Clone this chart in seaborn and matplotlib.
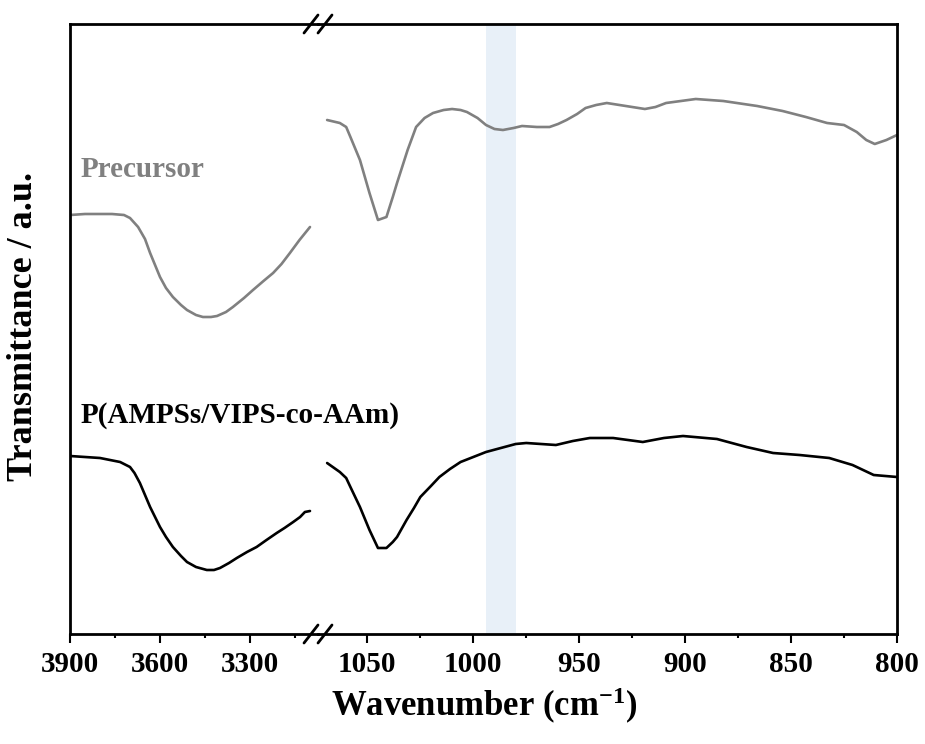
import matplotlib
matplotlib.use("Agg")
import matplotlib.pyplot as plt
from matplotlib.lines import Line2D
from matplotlib.ticker import FixedLocator
import seaborn as sns

# spectra (transmittance in arbitrary units)
prec_hi_wn = [3900, 3850, 3760, 3720, 3700, 3673, 3650, 3633, 3600, 3580, 3557, 3530,
              3510, 3480, 3457, 3430, 3410, 3380, 3357, 3320, 3290, 3255, 3223, 3195,
              3167, 3135, 3100]
prec_hi_t = [419, 420, 420, 419, 416, 407, 395, 381, 357, 346, 337, 329,
             324, 319, 317, 317, 318, 322, 327, 336, 344, 353, 361, 370,
             381, 394, 407]

prec_lo_wn = [1069, 1063, 1060, 1058, 1053.5, 1049, 1045, 1041, 1038, 1036, 1031, 1027,
              1023, 1019, 1014, 1010, 1006, 1003, 998, 994, 990, 986, 981, 977, 970,
              964, 960, 956, 951, 947, 942, 937, 928, 919, 914, 909, 902, 895, 882,
              866, 854, 843, 833, 825, 819, 814.5, 810.5, 805, 800]
prec_lo_t = [514, 511, 507, 497, 474, 441, 414, 417, 437, 451, 484, 507,
             516, 521, 524, 525, 524, 522, 516, 509, 505, 504, 506, 508, 507,
             507, 510, 514, 520, 526, 529, 531, 528, 525, 527, 531, 533, 535, 533,
             528, 523, 517, 511, 509, 502, 494, 490, 494, 499]

poly_hi_wn = [3900, 3800, 3733, 3700, 3685, 3667, 3650, 3633, 3600, 3580, 3557, 3530,
              3510, 3480, 3444, 3420, 3400, 3370, 3344, 3310, 3278, 3245, 3211, 3185,
              3156, 3133, 3117, 3100]
poly_hi_t = [178, 176, 172, 167, 161, 151, 139, 127, 107, 97, 87, 78,
             72, 67, 64, 64, 66, 71, 76, 82, 87, 94, 101, 106,
             112, 117, 122, 123]

poly_lo_wn = [1069, 1063, 1060, 1058, 1053.5, 1049, 1045, 1041, 1038, 1036, 1031.5,
              1028, 1025, 1020, 1016, 1011, 1006, 1000, 994, 987, 980, 975, 968,
              961, 953, 945, 934, 920, 910, 901, 885, 871, 858.5, 846, 832, 821,
              816, 811, 800]
poly_lo_t = [171, 162, 156, 147, 127, 104, 86, 86, 92, 97, 114,
             126, 137, 148, 157, 165, 172, 177, 182, 186, 190, 191, 190,
             189, 193, 196, 196, 192, 196, 198, 195, 187, 181, 179, 176, 169,
             164, 159, 157]

band = (980, 994)

sns.set_theme(style="ticks")
plt.rcParams['font.family'] = ['Liberation Serif', 'DejaVu Serif']
plt.rcParams['font.weight'] = 'bold'
plt.rcParams['text.color'] = 'black'
plt.rcParams['axes.labelcolor'] = 'black'
plt.rcParams['xtick.color'] = 'black'
plt.rcParams['xtick.labelcolor'] = 'black'
plt.rcParams['mathtext.fontset'] = 'custom'
plt.rcParams['mathtext.rm'] = 'Liberation Serif:bold'
plt.rcParams['mathtext.bf'] = 'Liberation Serif:bold'
plt.rcParams['mathtext.default'] = 'bf'

W, H = 925, 744
fig = plt.figure(figsize=(W / 100, H / 100), dpi=100)
x0, xb, x1 = 70, 318, 897
ytop, ybot = 24, 634
ax1 = fig.add_axes([x0 / W, 1 - ybot / H, (xb - x0) / W, (ybot - ytop) / H])
ax2 = fig.add_axes([xb / W, 1 - ybot / H, (x1 - xb) / W, (ybot - ytop) / H])

gray = '#808080'
lw = 1.9
for ax, pw, pt, bw, bt in [(ax1, prec_hi_wn, prec_hi_t, poly_hi_wn, poly_hi_t),
                           (ax2, prec_lo_wn, prec_lo_t, poly_lo_wn, poly_lo_t)]:
    sns.lineplot(x=pw, y=pt, ax=ax, color=gray, lw=lw, estimator=None, sort=False)
    sns.lineplot(x=bw, y=bt, ax=ax, color='black', lw=lw, estimator=None, sort=False)
    ax.set_ylim(0, 610)
    ax.set_yticks([])
    ax.set_xlabel('')
    ax.set_ylabel('')
    for s in ax.spines.values():
        s.set_linewidth(2.0)
        s.set_color('black')
    ax.tick_params(axis='x', which='major', direction='out', length=6.5, width=1.5,
                   labelsize=21, pad=6, colors='black')
    ax.tick_params(axis='x', which='minor', direction='out', length=3, width=1.5,
                   colors='black')
    ax.set_facecolor('none')

ax2.axvspan(band[0], band[1], color='#e8f0f8', lw=0, zorder=0)

ax1.set_xlim(3900, 3900 - (xb - x0) / 0.3)
ax1.xaxis.set_major_locator(FixedLocator([3900, 3600, 3300]))
ax1.xaxis.set_minor_locator(FixedLocator([3750, 3450, 3150]))
ax1.spines['right'].set_visible(False)

ax2.set_xlim(1050 + (367.4 - xb) / 2.12, 800)
ax2.xaxis.set_major_locator(FixedLocator([1050, 1000, 950, 900, 850, 800]))
ax2.xaxis.set_minor_locator(FixedLocator([1025, 975, 925, 875, 825]))
ax2.spines['left'].set_visible(False)

for lab in ax1.get_xticklabels() + ax2.get_xticklabels():
    lab.set_fontweight('bold')

# break marks
for yb in (ytop, ybot):
    for xc in (311, 325):
        fig.add_artist(Line2D([(xc - 7) / W, (xc + 7) / W],
                              [1 - (yb + 9) / H, 1 - (yb - 9) / H],
                              transform=fig.transFigure, color='black', lw=2.0))

fig.text(80.7 / W, 1 - 177 / H, 'Precursor', color=gray, fontsize=21,
         fontweight='bold', va='baseline', ha='left')
fig.text(80.7 / W, 1 - 423 / H, 'P(AMPSs/VIPS-co-AAm)', color='black', fontsize=21,
         fontweight='bold', va='baseline', ha='left')

fig.text(24 / W, 1 - 326 / H, 'Transmittance / a.u.', rotation=90, fontsize=26,
         fontweight='bold', ha='center', va='center', color='black')
fig.text(484 / W, 1 - 706 / H, r'Wavenumber (cm$^{-1}$)', fontsize=25,
         fontweight='bold', ha='center', va='center', color='black')

fig.savefig('out.png', dpi=100, facecolor='white')
